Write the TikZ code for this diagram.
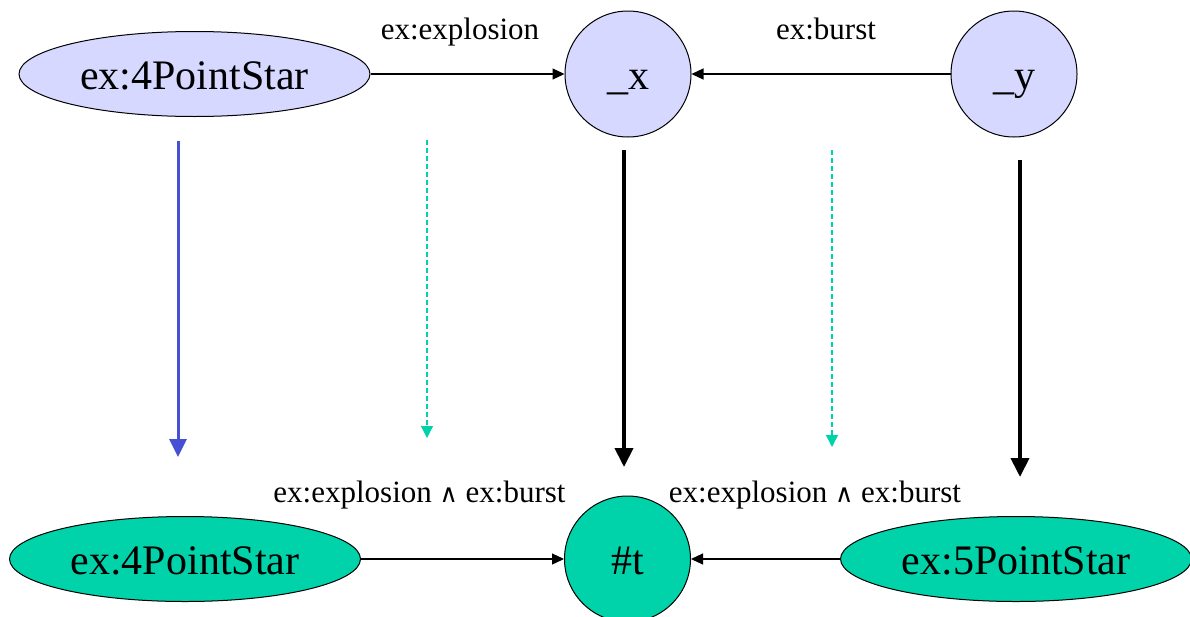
\documentclass[tikz,border=0pt]{standalone}
\usepackage{fontspec}
\setmainfont{Liberation Serif}
\newfontfamily\opfont{DejaVu Serif}
\usetikzlibrary{arrows.meta,shapes.geometric}
\definecolor{lavender}{RGB}{214,216,255}
\definecolor{teal}{RGB}{0,210,170}
\definecolor{royal}{RGB}{70,80,212}
\newcommand{\andop}{{\opfont\fontsize{25}{25}\selectfont ∧}}
\tikzset{
  ell/.style={ellipse, draw=black, line width=1pt, minimum width=351pt, minimum height=85pt, inner sep=0pt, text height=30pt, text depth=0pt, font=\fontsize{42}{42}\selectfont},
  circ/.style={circle, draw=black, line width=1pt, minimum size=126pt, inner sep=0pt, text height=30pt, text depth=0pt, font=\fontsize{42}{42}\selectfont},
  upper/.style={fill=lavender},
  lower/.style={fill=teal},
  rel/.style={draw=black, line width=1.2pt, -{Triangle[length=12pt,width=11pt]}},
  lbl/.style={font=\fontsize{31}{31}\selectfont, inner sep=0pt, anchor=base},
  heavy/.style={draw=black, line width=4pt, -{Triangle[length=19pt,width=18pt]}},
  bluearrow/.style={draw=royal, line width=3pt, -{Triangle[length=18pt,width=17pt]}},
  dasharrow/.style={draw=teal, line width=1.3pt, dash pattern=on 5pt off 3pt, -{Triangle[length=12pt,width=12pt]}}
}
\begin{document}
\begin{tikzpicture}[x=1pt,y=-1pt]
\useasboundingbox (0,0) rectangle (1190,616);

% upper graph
\node[ell,upper] (s4a) at (194.5,74) {ex:4PointStar};
\node[circ,upper] (x) at (628,74) {\_x};
\node[circ,upper] (y) at (1014,74) {\_y};
\draw[rel] (s4a) -- (x);
\draw[rel] (y) -- (x);
\node[lbl] (lexp) at (460,39) {ex:explosion};
\node[lbl] (lbur) at (826,39) {ex:burst};

% lower graph
\node[ell,lower] (s4b) at (185,559) {ex:4PointStar};
\node[circ,lower] (t) at (627.5,559) {\#t};
\node[ell,lower] (s5) at (1016,559) {ex:5PointStar};
\draw[rel] (s4b) -- (t);
\draw[rel] (s5) -- (t);
\node[lbl] (lcl) at (419.5,502) {ex:explosion \andop{} ex:burst};
\node[lbl] (lcr) at (815,502) {ex:explosion \andop{} ex:burst};

% mapping arrows
\coordinate (b1) at (178,141);   \coordinate (e1) at (178,457);
\coordinate (b2) at (427,140);   \coordinate (e2) at (427,438);
\coordinate (b3) at (624,150);   \coordinate (e3) at (624,467);
\coordinate (b4) at (832,150);   \coordinate (e4) at (832,447);
\coordinate (b5) at (1020,160);  \coordinate (e5) at (1020,477);
\draw[bluearrow] (b1) -- (e1);
\draw[dasharrow] (b2) -- (e2);
\draw[heavy] (b3) -- (e3);
\draw[dasharrow] (b4) -- (e4);
\draw[heavy] (b5) -- (e5);
\end{tikzpicture}
\end{document}
